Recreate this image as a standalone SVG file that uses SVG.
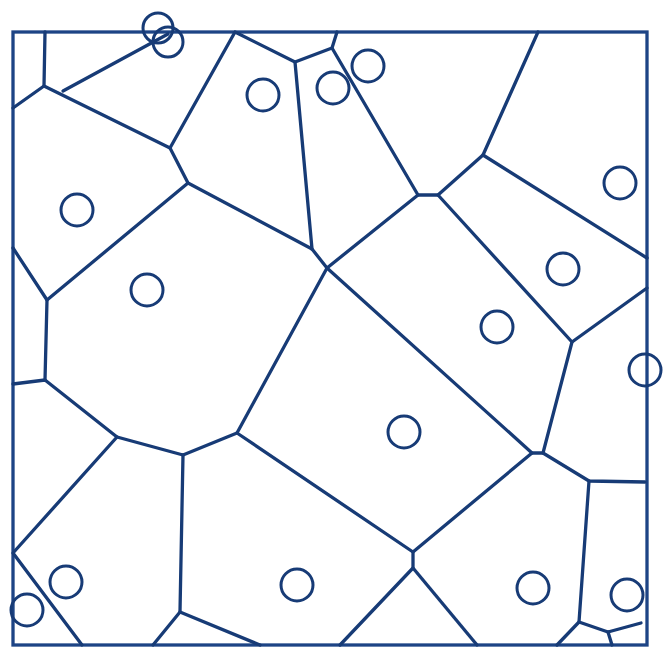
<svg xmlns="http://www.w3.org/2000/svg" width="663" height="647" viewBox="0 0 663 647">
<style>
.e{fill:none;stroke:#173b76;stroke-width:3.3;stroke-linecap:round;stroke-linejoin:round}
.b{fill:none;stroke:#1d4485;stroke-width:3.3}
.s{fill:none;stroke:#173b76;stroke-width:3}
</style>
<rect width="663" height="647" fill="#ffffff"/>
<rect class="b" x="13" y="32" width="634" height="613"/>
<g id="edges" class="e">
<polyline points="45,32 44,86 13,108"/>
<polyline points="44,86 170,148 235,32 295,62 332,48 337,32"/>
<line x1="63" y1="91" x2="168" y2="34"/>
<polyline points="170,148 188,183 312,249 327,268"/>
<line x1="295" y1="62" x2="312" y2="249"/>
<polyline points="332,48 418,195 438,195 483,155 538,32"/>
<line x1="483" y1="155" x2="647" y2="258"/>
<line x1="418" y1="195" x2="327" y2="268"/>
<polyline points="438,195 572,342 543,453 532,453 327,268"/>
<line x1="572" y1="342" x2="647" y2="288"/>
<polyline points="543,453 589,481 645,482"/>
<polyline points="589,481 579,622 557,645"/>
<polyline points="579,622 608,632 641,623"/>
<line x1="608" y1="632" x2="612" y2="645"/>
<polyline points="532,453 413,552 413,568 340,645"/>
<line x1="413" y1="568" x2="477" y2="645"/>
<polyline points="413,552 237,433 327,268"/>
<polyline points="237,433 183,455 117,437 45,380 13,384"/>
<polyline points="188,183 47,300 45,380"/>
<line x1="47" y1="300" x2="13" y2="248"/>
<polyline points="117,437 13,553 82,645"/>
<polyline points="183,455 180,612 153,645"/>
<line x1="180" y1="612" x2="260" y2="645"/>
</g>
<g id="sites" class="s">
<circle cx="158" cy="28" r="15"/>
<circle cx="168" cy="42" r="15"/>
<circle cx="263" cy="95" r="16"/>
<circle cx="333" cy="88" r="16"/>
<circle cx="368" cy="66" r="16"/>
<circle cx="77" cy="210" r="16"/>
<circle cx="147" cy="290" r="16"/>
<circle cx="620" cy="183" r="16"/>
<circle cx="563" cy="269" r="16"/>
<circle cx="497" cy="327" r="16"/>
<circle cx="645" cy="370" r="16"/>
<circle cx="404" cy="432" r="16"/>
<circle cx="66" cy="582" r="16"/>
<circle cx="27" cy="610" r="16"/>
<circle cx="297" cy="585" r="16"/>
<circle cx="533" cy="588" r="16"/>
<circle cx="627" cy="595" r="16"/>
</g>
</svg>
